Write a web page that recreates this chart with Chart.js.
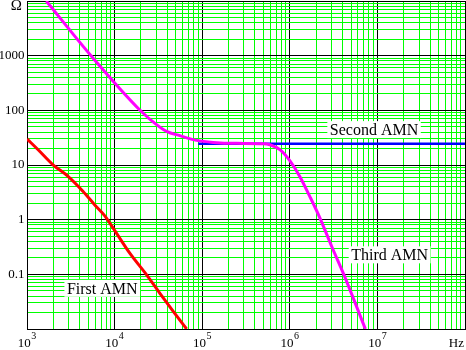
<!DOCTYPE html>
<html>
<head>
<meta charset="utf-8">
<script src="https://cdn.jsdelivr.net/npm/chart.js@4/dist/chart.umd.min.js"></script>
<style>
  html, body { margin: 0; padding: 0; background: #fff; overflow: hidden; }
  canvas { display: block; }
</style>
</head>
<body>
<canvas id="c" width="466" height="350"></canvas>
<script>
// Impedance of three artificial mains networks versus frequency (log-log)

// Axis decades and their labels
const xDecades = [1e3, 1e4, 1e5, 1e6, 1e7, 1e8];
const xTickBase = ['10', '10', '10', '10', '10', 'Hz'];
const xTickExp = ['3', '4', '5', '6', '7', ''];
const yDecades = [0.01, 0.1, 1, 10, 100, 1000, 10000];
const yTickLabels = ['', '0.1', '1', '10', '100', '1000', 'Ω'];

// First AMN
const firstFreq = [1000, 1340, 1980, 2940, 4370, 5940, 7730, 10050, 14900, 23200, 32900, 46700, 66400];
const firstZ    = [30, 19, 10.1, 6.2, 3.28, 1.86, 1.175, 0.631, 0.244, 0.098, 0.045, 0.021, 0.01];

// Second AMN
const secondFreq = [90000, 1e8];
const secondZ    = [24.5, 24.5];

// Third AMN
const thirdFreq = [1660, 5450, 19400, 30100, 39200, 55600, 86300, 133600, 247000, 498000, 594000, 771000,
                   1.0e6, 1.30e6, 1.70e6, 2.21e6, 3.01e6, 4.13e6, 7.29e6];
const thirdZ    = [10000, 975, 101.6, 54.7, 41.2, 34.4, 28.2, 25.9, 24.9, 24.6, 23.5, 19.05,
                   12.0, 6.18, 2.62, 1.07, 0.323, 0.1, 0.01];

// Curve names, placed at (frequency, impedance)
const curveNames = ['First AMN', 'Second AMN', 'Third AMN'];
const nameFreq = [7230, 9.16e6, 1.38e7];
const nameZ = [0.0555, 44.4, 0.2275];

const pts = (xs, ys) => xs.map((x, i) => ({ x: x, y: ys[i] }));

const minorTicks = (lo, hi) => {
  const out = [];
  for (let d = lo; d < hi; d *= 10) {
    for (let k = 1; k <= 9; k++) out.push(+(k * d).toPrecision(6));
  }
  out.push(hi);
  return out;
};

const isDecade = v => Math.abs(Math.log10(v) - Math.round(Math.log10(v))) < 1e-9;

const serif = '"Liberation Serif", "Times New Roman", serif';

const labelsPlugin = {
  id: 'axisAndCurveLabels',
  afterDraw(chart) {
    const ctx = chart.ctx;
    const xs = chart.scales.x, ys = chart.scales.y;
    const area = chart.chartArea;
    ctx.save();
    ctx.fillStyle = '#000';

    // y tick labels
    ctx.textAlign = 'right';
    ctx.textBaseline = 'middle';
    yDecades.forEach((v, i) => {
      if (!yTickLabels[i]) return;
      const top = i === yDecades.length - 1;
      ctx.font = (top ? '15px ' : '13px ') + serif;
      const py = Math.max(ys.getPixelForValue(v), 6.5);
      ctx.fillText(yTickLabels[i], top ? 22 : 24.5, py);
    });

    // x tick labels with superscript exponents
    ctx.textAlign = 'left';
    ctx.textBaseline = 'alphabetic';
    xDecades.forEach((v, i) => {
      ctx.font = '13px ' + serif;
      const wb = ctx.measureText(xTickBase[i]).width;
      ctx.font = '10px ' + serif;
      const we = xTickExp[i] ? ctx.measureText(xTickExp[i]).width + 0.5 : 0;
      const w = wb + we;
      let left = xs.getPixelForValue(v) - w / 2;
      left = Math.min(left, area.right - w - 1);
      ctx.font = '13px ' + serif;
      ctx.fillText(xTickBase[i], left, 346.5);
      if (xTickExp[i]) {
        ctx.font = '10px ' + serif;
        ctx.fillText(xTickExp[i], left + wb + 0.5, 339);
      }
    });

    // curve names in white boxes
    ctx.font = '16px ' + serif;
    ctx.textAlign = 'center';
    ctx.textBaseline = 'middle';
    curveNames.forEach((t, i) => {
      const px = xs.getPixelForValue(nameFreq[i]);
      const py = ys.getPixelForValue(nameZ[i]);
      const w = ctx.measureText(t).width + 5;
      ctx.fillStyle = '#fff';
      ctx.fillRect(px - w / 2, py - 8.5, w, 17);
      ctx.fillStyle = '#000';
      ctx.fillText(t, px, py + 1);
    });
    ctx.restore();
  }
};

const gridColor = c => (c.tick && isDecade(c.tick.value)) ? '#000000' : '#00ff00';

new Chart(document.getElementById('c'), {
  type: 'line',
  data: {
    datasets: [
      { label: 'Third AMN', data: pts(thirdFreq, thirdZ), borderColor: '#ff00ff', borderWidth: 3,
        cubicInterpolationMode: 'monotone', pointRadius: 0, order: 0 },
      { label: 'First AMN', data: pts(firstFreq, firstZ), borderColor: '#ff0000', borderWidth: 3,
        cubicInterpolationMode: 'monotone', pointRadius: 0, order: 1 },
      { label: 'Second AMN', data: pts(secondFreq, secondZ), borderColor: '#0000ff', borderWidth: 2.5,
        pointRadius: 0, order: 2 }
    ]
  },
  options: {
    responsive: false,
    animation: false,
    events: [],
    layout: { padding: { top: 1, right: 1, left: 0, bottom: 0 } },
    plugins: { legend: { display: false }, tooltip: { enabled: false } },
    scales: {
      x: {
        type: 'logarithmic',
        min: xDecades[0],
        max: xDecades[xDecades.length - 1],
        afterBuildTicks: s => { s.ticks = minorTicks(1e3, 1e8).map(v => ({ value: v })); },
        afterFit: s => { s.height = 21; },
        ticks: { display: false },
        grid: { color: gridColor, lineWidth: 1, drawTicks: false, tickLength: 0 },
        border: { display: true, color: '#000', width: 1 }
      },
      y: {
        type: 'logarithmic',
        min: yDecades[0],
        max: yDecades[yDecades.length - 1],
        afterBuildTicks: s => { s.ticks = minorTicks(0.01, 1e4).map(v => ({ value: v })); },
        afterFit: s => { s.width = 27; },
        ticks: { display: false },
        grid: { color: gridColor, lineWidth: 1, drawTicks: false, tickLength: 0 },
        border: { display: true, color: '#000', width: 1 }
      }
    }
  },
  plugins: [labelsPlugin]
});
</script>
</body>
</html>
